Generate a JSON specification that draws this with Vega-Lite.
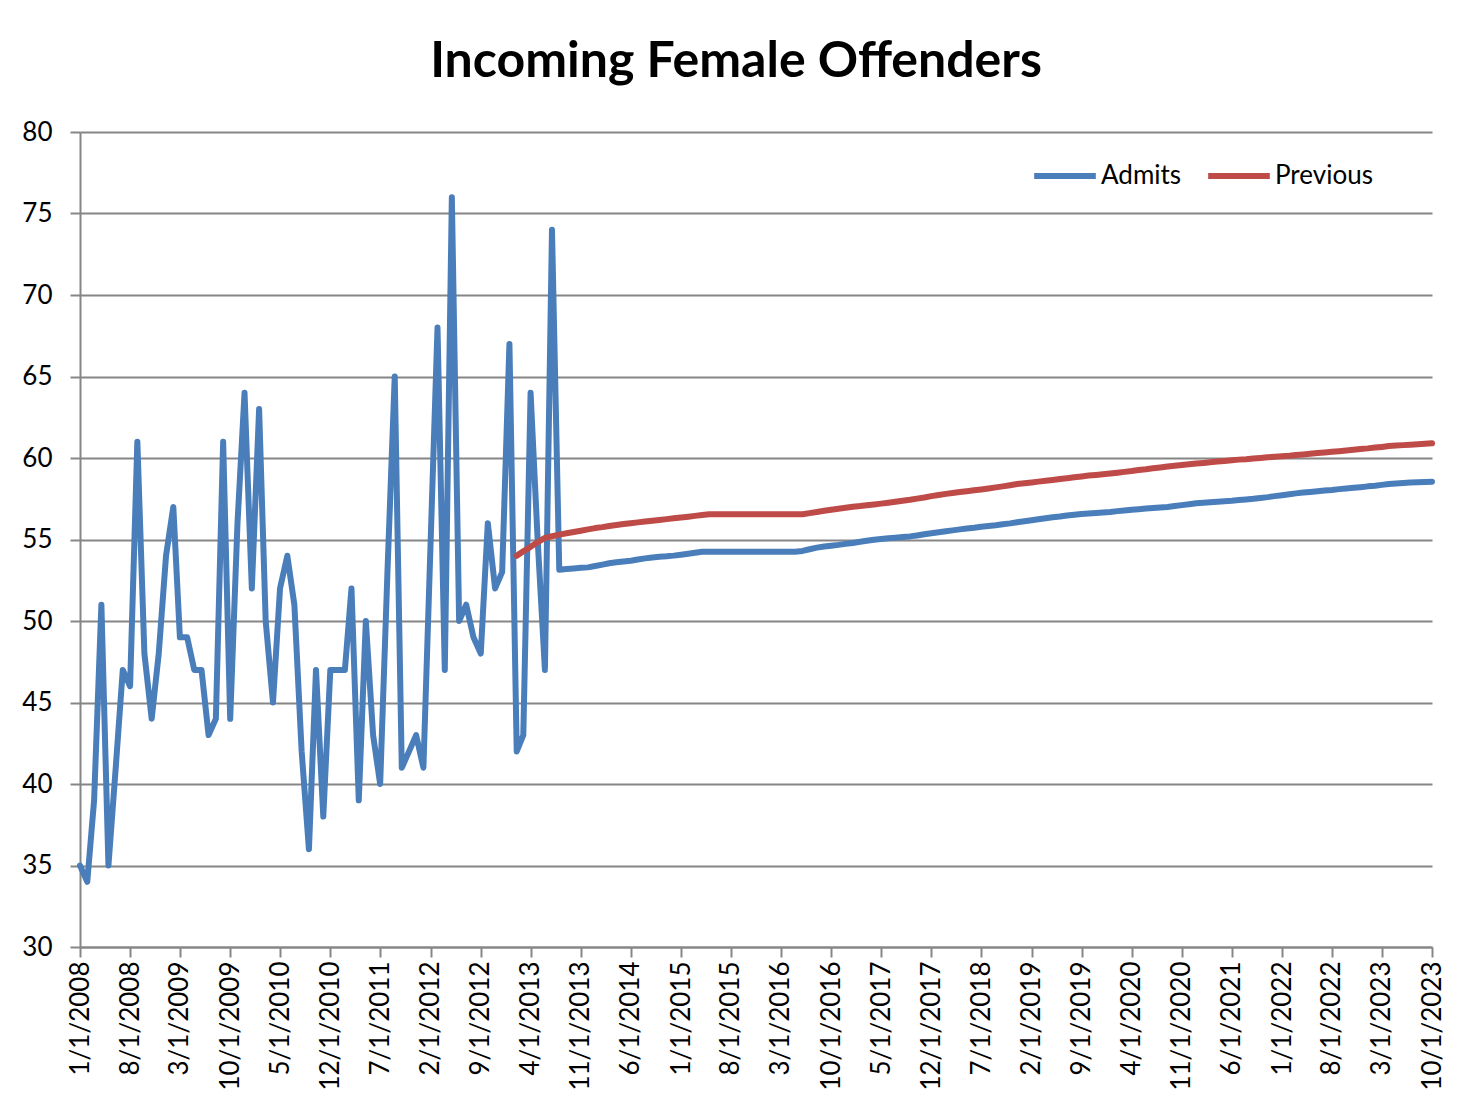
{
  "$schema": "https://vega.github.io/schema/vega-lite/v6.json",
  "width": 1352,
  "height": 815,
  "autosize": {"type": "none"},
  "padding": {"left": 80, "top": 132, "right": 28, "bottom": 148},
  "background": "white",
  "title": {"text": "Incoming Female Offenders", "font": "Lato", "fontSize": 50, "fontWeight": "bold", "color": "black", "anchor": "middle", "dx": -20, "offset": 32},
  "config": {"view": {"stroke": null}, "font": "Lato"},
  "datasets": {
    "admits": [
      {"d":"2008-01-01","v":35},{"d":"2008-02-01","v":34},{"d":"2008-03-01","v":39},{"d":"2008-04-01","v":51},{"d":"2008-05-01","v":35},{"d":"2008-06-01","v":41},{"d":"2008-07-01","v":47},{"d":"2008-08-01","v":46},{"d":"2008-09-01","v":61},{"d":"2008-10-01","v":48},{"d":"2008-11-01","v":44},{"d":"2008-12-01","v":48},
      {"d":"2009-01-01","v":54},{"d":"2009-02-01","v":57},{"d":"2009-03-01","v":49},{"d":"2009-04-01","v":49},{"d":"2009-05-01","v":47},{"d":"2009-06-01","v":47},{"d":"2009-07-01","v":43},{"d":"2009-08-01","v":44},{"d":"2009-09-01","v":61},{"d":"2009-10-01","v":44},{"d":"2009-11-01","v":56},{"d":"2009-12-01","v":64},
      {"d":"2010-01-01","v":52},{"d":"2010-02-01","v":63},{"d":"2010-03-01","v":50},{"d":"2010-04-01","v":45},{"d":"2010-05-01","v":52},{"d":"2010-06-01","v":54},{"d":"2010-07-01","v":51},{"d":"2010-08-01","v":42},{"d":"2010-09-01","v":36},{"d":"2010-10-01","v":47},{"d":"2010-11-01","v":38},{"d":"2010-12-01","v":47},
      {"d":"2011-01-01","v":47},{"d":"2011-02-01","v":47},{"d":"2011-03-01","v":52},{"d":"2011-04-01","v":39},{"d":"2011-05-01","v":50},{"d":"2011-06-01","v":43},{"d":"2011-07-01","v":40},{"d":"2011-08-01","v":53},{"d":"2011-09-01","v":65},{"d":"2011-10-01","v":41},{"d":"2011-11-01","v":42},{"d":"2011-12-01","v":43},
      {"d":"2012-01-01","v":41},{"d":"2012-02-01","v":55},{"d":"2012-03-01","v":68},{"d":"2012-04-01","v":47},{"d":"2012-05-01","v":76},{"d":"2012-06-01","v":50},{"d":"2012-07-01","v":51},{"d":"2012-08-01","v":49},{"d":"2012-09-01","v":48},{"d":"2012-10-01","v":56},{"d":"2012-11-01","v":52},{"d":"2012-12-01","v":53},
      {"d":"2013-01-01","v":67},{"d":"2013-02-01","v":42},{"d":"2013-03-01","v":43},{"d":"2013-04-01","v":64},{"d":"2013-05-01","v":55},{"d":"2013-06-01","v":47},{"d":"2013-07-01","v":74},{"d":"2013-08-01","v":53.15},{"d":"2013-09-01","v":53.19},{"d":"2013-10-01","v":53.22},{"d":"2013-11-01","v":53.26},{"d":"2013-12-01","v":53.29},
      {"d":"2014-01-01","v":53.37},{"d":"2014-02-01","v":53.46},{"d":"2014-03-01","v":53.54},{"d":"2014-04-01","v":53.6},{"d":"2014-05-01","v":53.65},{"d":"2014-06-01","v":53.7},{"d":"2014-07-01","v":53.77},{"d":"2014-08-01","v":53.84},{"d":"2014-09-01","v":53.9},{"d":"2014-10-01","v":53.94},{"d":"2014-11-01","v":53.97},{"d":"2014-12-01","v":54.01},
      {"d":"2015-01-01","v":54.07},{"d":"2015-02-01","v":54.13},{"d":"2015-03-01","v":54.19},{"d":"2015-04-01","v":54.25},{"d":"2015-05-01","v":54.25},{"d":"2015-06-01","v":54.25},{"d":"2015-07-01","v":54.25},{"d":"2015-08-01","v":54.25},{"d":"2015-09-01","v":54.25},{"d":"2015-10-01","v":54.25},{"d":"2015-11-01","v":54.25},{"d":"2015-12-01","v":54.25},
      {"d":"2016-01-01","v":54.25},{"d":"2016-02-01","v":54.25},{"d":"2016-03-01","v":54.25},{"d":"2016-04-01","v":54.25},{"d":"2016-05-01","v":54.25},{"d":"2016-06-01","v":54.3},{"d":"2016-07-01","v":54.4},{"d":"2016-08-01","v":54.5},{"d":"2016-09-01","v":54.57},{"d":"2016-10-01","v":54.62},{"d":"2016-11-01","v":54.67},{"d":"2016-12-01","v":54.73},
      {"d":"2017-01-01","v":54.79},{"d":"2017-02-01","v":54.86},{"d":"2017-03-01","v":54.92},{"d":"2017-04-01","v":54.99},{"d":"2017-05-01","v":55.03},{"d":"2017-06-01","v":55.07},{"d":"2017-07-01","v":55.11},{"d":"2017-08-01","v":55.15},{"d":"2017-09-01","v":55.19},{"d":"2017-10-01","v":55.25},{"d":"2017-11-01","v":55.32},{"d":"2017-12-01","v":55.38},
      {"d":"2018-01-01","v":55.44},{"d":"2018-02-01","v":55.51},{"d":"2018-03-01","v":55.56},{"d":"2018-04-01","v":55.62},{"d":"2018-05-01","v":55.67},{"d":"2018-06-01","v":55.72},{"d":"2018-07-01","v":55.78},{"d":"2018-08-01","v":55.83},{"d":"2018-09-01","v":55.88},{"d":"2018-10-01","v":55.94},{"d":"2018-11-01","v":55.99},{"d":"2018-12-01","v":56.06},
      {"d":"2019-01-01","v":56.12},{"d":"2019-02-01","v":56.18},{"d":"2019-03-01","v":56.24},{"d":"2019-04-01","v":56.3},{"d":"2019-05-01","v":56.36},{"d":"2019-06-01","v":56.41},{"d":"2019-07-01","v":56.47},{"d":"2019-08-01","v":56.52},{"d":"2019-09-01","v":56.56},{"d":"2019-10-01","v":56.59},{"d":"2019-11-01","v":56.62},{"d":"2019-12-01","v":56.65},
      {"d":"2020-01-01","v":56.69},{"d":"2020-02-01","v":56.74},{"d":"2020-03-01","v":56.78},{"d":"2020-04-01","v":56.83},{"d":"2020-05-01","v":56.86},{"d":"2020-06-01","v":56.9},{"d":"2020-07-01","v":56.93},{"d":"2020-08-01","v":56.97},{"d":"2020-09-01","v":57.0},{"d":"2020-10-01","v":57.05},{"d":"2020-11-01","v":57.11},{"d":"2020-12-01","v":57.16},
      {"d":"2021-01-01","v":57.22},{"d":"2021-02-01","v":57.26},{"d":"2021-03-01","v":57.29},{"d":"2021-04-01","v":57.32},{"d":"2021-05-01","v":57.35},{"d":"2021-06-01","v":57.38},{"d":"2021-07-01","v":57.42},{"d":"2021-08-01","v":57.46},{"d":"2021-09-01","v":57.5},{"d":"2021-10-01","v":57.55},{"d":"2021-11-01","v":57.6},{"d":"2021-12-01","v":57.66},
      {"d":"2022-01-01","v":57.72},{"d":"2022-02-01","v":57.78},{"d":"2022-03-01","v":57.83},{"d":"2022-04-01","v":57.88},{"d":"2022-05-01","v":57.92},{"d":"2022-06-01","v":57.96},{"d":"2022-07-01","v":58.0},{"d":"2022-08-01","v":58.04},{"d":"2022-09-01","v":58.09},{"d":"2022-10-01","v":58.13},{"d":"2022-11-01","v":58.17},{"d":"2022-12-01","v":58.21},
      {"d":"2023-01-01","v":58.26},{"d":"2023-02-01","v":58.3},{"d":"2023-03-01","v":58.35},{"d":"2023-04-01","v":58.4},{"d":"2023-05-01","v":58.43},{"d":"2023-06-01","v":58.46},{"d":"2023-07-01","v":58.49},{"d":"2023-08-01","v":58.51},{"d":"2023-09-01","v":58.53},{"d":"2023-10-01","v":58.55}
    ],
    "previous": [
      {"d":"2013-02-01","v":54.0},{"d":"2013-03-01","v":54.28},{"d":"2013-04-01","v":54.55},{"d":"2013-05-01","v":54.83},{"d":"2013-06-01","v":55.1},{"d":"2013-07-01","v":55.2},{"d":"2013-08-01","v":55.3},{"d":"2013-09-01","v":55.38},{"d":"2013-10-01","v":55.46},{"d":"2013-11-01","v":55.54},{"d":"2013-12-01","v":55.62},
      {"d":"2014-01-01","v":55.7},{"d":"2014-02-01","v":55.76},{"d":"2014-03-01","v":55.83},{"d":"2014-04-01","v":55.89},{"d":"2014-05-01","v":55.95},{"d":"2014-06-01","v":56.0},{"d":"2014-07-01","v":56.05},{"d":"2014-08-01","v":56.1},{"d":"2014-09-01","v":56.15},{"d":"2014-10-01","v":56.2},{"d":"2014-11-01","v":56.25},{"d":"2014-12-01","v":56.3},
      {"d":"2015-01-01","v":56.35},{"d":"2015-02-01","v":56.4},{"d":"2015-03-01","v":56.45},{"d":"2015-04-01","v":56.5},{"d":"2015-05-01","v":56.55},{"d":"2015-06-01","v":56.55},{"d":"2015-07-01","v":56.55},{"d":"2015-08-01","v":56.55},{"d":"2015-09-01","v":56.55},{"d":"2015-10-01","v":56.55},{"d":"2015-11-01","v":56.55},{"d":"2015-12-01","v":56.55},
      {"d":"2016-01-01","v":56.55},{"d":"2016-02-01","v":56.55},{"d":"2016-03-01","v":56.55},{"d":"2016-04-01","v":56.55},{"d":"2016-05-01","v":56.55},{"d":"2016-06-01","v":56.55},{"d":"2016-07-01","v":56.62},{"d":"2016-08-01","v":56.69},{"d":"2016-09-01","v":56.76},{"d":"2016-10-01","v":56.83},{"d":"2016-11-01","v":56.89},{"d":"2016-12-01","v":56.95},
      {"d":"2017-01-01","v":57.01},{"d":"2017-02-01","v":57.05},{"d":"2017-03-01","v":57.1},{"d":"2017-04-01","v":57.15},{"d":"2017-05-01","v":57.2},{"d":"2017-06-01","v":57.26},{"d":"2017-07-01","v":57.32},{"d":"2017-08-01","v":57.38},{"d":"2017-09-01","v":57.44},{"d":"2017-10-01","v":57.51},{"d":"2017-11-01","v":57.58},{"d":"2017-12-01","v":57.66},
      {"d":"2018-01-01","v":57.73},{"d":"2018-02-01","v":57.8},{"d":"2018-03-01","v":57.85},{"d":"2018-04-01","v":57.91},{"d":"2018-05-01","v":57.96},{"d":"2018-06-01","v":58.02},{"d":"2018-07-01","v":58.07},{"d":"2018-08-01","v":58.13},{"d":"2018-09-01","v":58.2},{"d":"2018-10-01","v":58.26},{"d":"2018-11-01","v":58.33},{"d":"2018-12-01","v":58.4},
      {"d":"2019-01-01","v":58.45},{"d":"2019-02-01","v":58.5},{"d":"2019-03-01","v":58.55},{"d":"2019-04-01","v":58.6},{"d":"2019-05-01","v":58.65},{"d":"2019-06-01","v":58.71},{"d":"2019-07-01","v":58.76},{"d":"2019-08-01","v":58.82},{"d":"2019-09-01","v":58.87},{"d":"2019-10-01","v":58.92},{"d":"2019-11-01","v":58.96},{"d":"2019-12-01","v":59.0},
      {"d":"2020-01-01","v":59.05},{"d":"2020-02-01","v":59.1},{"d":"2020-03-01","v":59.15},{"d":"2020-04-01","v":59.2},{"d":"2020-05-01","v":59.26},{"d":"2020-06-01","v":59.31},{"d":"2020-07-01","v":59.37},{"d":"2020-08-01","v":59.42},{"d":"2020-09-01","v":59.48},{"d":"2020-10-01","v":59.52},{"d":"2020-11-01","v":59.57},{"d":"2020-12-01","v":59.61},
      {"d":"2021-01-01","v":59.66},{"d":"2021-02-01","v":59.7},{"d":"2021-03-01","v":59.74},{"d":"2021-04-01","v":59.78},{"d":"2021-05-01","v":59.82},{"d":"2021-06-01","v":59.86},{"d":"2021-07-01","v":59.9},{"d":"2021-08-01","v":59.93},{"d":"2021-09-01","v":59.97},{"d":"2021-10-01","v":60.0},{"d":"2021-11-01","v":60.04},{"d":"2021-12-01","v":60.08},
      {"d":"2022-01-01","v":60.11},{"d":"2022-02-01","v":60.14},{"d":"2022-03-01","v":60.18},{"d":"2022-04-01","v":60.22},{"d":"2022-05-01","v":60.26},{"d":"2022-06-01","v":60.3},{"d":"2022-07-01","v":60.34},{"d":"2022-08-01","v":60.38},{"d":"2022-09-01","v":60.42},{"d":"2022-10-01","v":60.46},{"d":"2022-11-01","v":60.51},{"d":"2022-12-01","v":60.55},
      {"d":"2023-01-01","v":60.59},{"d":"2023-02-01","v":60.64},{"d":"2023-03-01","v":60.68},{"d":"2023-04-01","v":60.73},{"d":"2023-05-01","v":60.76},{"d":"2023-06-01","v":60.79},{"d":"2023-07-01","v":60.82},{"d":"2023-08-01","v":60.85},{"d":"2023-09-01","v":60.88},{"d":"2023-10-01","v":60.9}
    ]
  },
  "encoding": {
    "x": {
      "field": "d", "type": "temporal",
      "scale": {"type": "utc", "nice": false, "domain": [{"year": 2008, "month": 1, "date": 1, "utc": true}, {"year": 2023, "month": 10, "date": 1, "utc": true}]},
      "axis": {
        "title": null, "grid": false, "format": "%-m/%-d/%Y", "labelAngle": 270, "labelFontSize": 26, "labelColor": "black", "labelFont": "Lato",
        "labelPadding": 4, "tickSize": 10, "tickColor": "#868686", "tickWidth": 2, "domainColor": "#868686", "domainWidth": 2, "labelOverlap": false, "labelFlush": false,
        "values": [
          {"year":2008,"month":1,"date":1,"utc":true},{"year":2008,"month":8,"date":1,"utc":true},{"year":2009,"month":3,"date":1,"utc":true},{"year":2009,"month":10,"date":1,"utc":true},
          {"year":2010,"month":5,"date":1,"utc":true},{"year":2010,"month":12,"date":1,"utc":true},{"year":2011,"month":7,"date":1,"utc":true},{"year":2012,"month":2,"date":1,"utc":true},
          {"year":2012,"month":9,"date":1,"utc":true},{"year":2013,"month":4,"date":1,"utc":true},{"year":2013,"month":11,"date":1,"utc":true},{"year":2014,"month":6,"date":1,"utc":true},
          {"year":2015,"month":1,"date":1,"utc":true},{"year":2015,"month":8,"date":1,"utc":true},{"year":2016,"month":3,"date":1,"utc":true},{"year":2016,"month":10,"date":1,"utc":true},
          {"year":2017,"month":5,"date":1,"utc":true},{"year":2017,"month":12,"date":1,"utc":true},{"year":2018,"month":7,"date":1,"utc":true},{"year":2019,"month":2,"date":1,"utc":true},
          {"year":2019,"month":9,"date":1,"utc":true},{"year":2020,"month":4,"date":1,"utc":true},{"year":2020,"month":11,"date":1,"utc":true},{"year":2021,"month":6,"date":1,"utc":true},
          {"year":2022,"month":1,"date":1,"utc":true},{"year":2022,"month":8,"date":1,"utc":true},{"year":2023,"month":3,"date":1,"utc":true},{"year":2023,"month":10,"date":1,"utc":true}
        ]
      }
    },
    "y": {
      "field": "v", "type": "quantitative",
      "scale": {"domain": [30, 80], "nice": false, "zero": false},
      "axis": {
        "title": null, "values": [30, 35, 40, 45, 50, 55, 60, 65, 70, 75, 80], "grid": true, "gridColor": "#868686", "gridWidth": 2,
        "domainColor": "#868686", "domainWidth": 2, "tickColor": "#868686", "tickWidth": 2, "tickSize": 10,
        "labelFontSize": 26, "labelColor": "black", "labelFont": "Lato", "labelPadding": 18
      }
    }
  },
  "layer": [
    {
      "data": {"name": "admits"},
      "mark": {"type": "line", "strokeWidth": 6, "strokeCap": "round", "strokeJoin": "round"},
      "encoding": {
        "color": {
          "datum": "Admits",
          "scale": {"domain": ["Admits", "Previous"], "range": ["#4A7EBB", "#BE4B48"]},
          "legend": {
            "title": null, "orient": "none", "legendX": 951, "legendY": 10, "direction": "horizontal",
            "symbolType": "stroke", "symbolSize": 3800, "symbolStrokeWidth": 6, "labelFontSize": 26, "labelFont": "Lato", "labelColor": "black",
            "labelOffset": 2, "columnPadding": 14
          }
        }
      }
    },
    {
      "data": {"name": "previous"},
      "mark": {"type": "line", "strokeWidth": 6, "strokeCap": "round", "strokeJoin": "round"},
      "encoding": {"color": {"datum": "Previous"}}
    }
  ]
}
